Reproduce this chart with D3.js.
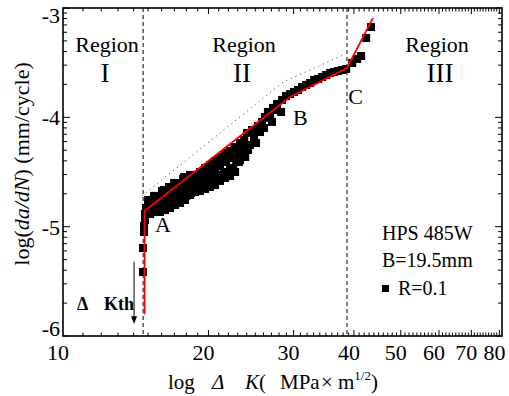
<!DOCTYPE html>
<html>
<head>
<meta charset="utf-8">
<script src="https://cdnjs.cloudflare.com/ajax/libs/d3/7.8.5/d3.min.js"></script>
<style>
  body { margin: 0; background: #fff; }
  text { font-family: "Liberation Serif", "Times New Roman", serif; fill: #000; }
</style>
</head>
<body>
<script>
// measured points: stress intensity range (MPa m^1/2) and log(da/dN)
const dk = [14.64, 14.64, 14.71, 14.71, 14.78, 14.78, 14.85, 15.0, 15.0, 15.14,
  15.28, 15.36, 15.51, 15.66, 15.73, 15.88, 16.03, 16.1, 16.26, 16.42,
  16.49, 16.65, 16.81, 16.89, 17.06, 17.22, 17.3, 17.47, 17.64, 17.72,
  17.89, 18.06, 18.15, 18.32, 18.5, 18.58, 18.76, 18.94, 19.03, 19.21,
  19.4, 19.49, 19.68, 19.87, 19.96, 20.15, 20.35, 20.44, 20.64, 20.84,
  20.94, 21.13, 21.34, 21.55, 21.76, 21.96, 22.17, 22.39, 22.61, 22.82,
  23.04, 23.25, 23.49, 23.72, 24.04, 24.38, 24.61, 25.09, 25.33, 25.81,
  26.18, 26.55, 27.07, 27.2, 27.73, 28.27, 28.4, 28.95, 29.51, 30.07,
  30.65, 31.25, 31.85, 32.47, 33.1, 33.73, 34.38, 35.05, 35.72, 36.41,
  37.11, 37.82, 38.55, 39.67, 40.62, 41.4, 42.4, 43.4,
  15.14, 15.58, 15.95, 16.34, 16.73, 17.14, 17.55, 17.98, 18.41, 18.85,
  19.3, 19.77, 20.25, 20.74, 21.24, 21.86, 22.5, 23.14, 23.83, 24.15,
  24.85, 25.57, 26.06, 26.83, 27.6, 15.43, 16.18, 16.98, 17.81,
  17.89, 18.32, 18.76, 19.21, 19.68, 20.15, 20.64, 21.13, 21.65, 22.17,
  22.71, 23.25, 23.83, 18.32, 18.76, 19.21, 19.68, 20.15, 20.64, 21.13,
  21.65, 22.17, 22.71, 23.25, 15.73, 16.49, 17.3, 15.88, 16.65, 17.47,
  17.06, 16.26, 17.89, 15.0, 15.51, 16.03, 16.57, 17.14, 17.72, 18.32];
const logRate = [-5.415, -5.195, -5.049, -4.994, -4.939, -4.884, -4.829, -4.793, -4.866, -4.829,
  -4.774, -4.848, -4.802, -4.738, -4.820, -4.774, -4.719, -4.793, -4.747, -4.692,
  -4.765, -4.719, -4.665, -4.747, -4.692, -4.637, -4.719, -4.665, -4.610, -4.710,
  -4.646, -4.582, -4.683, -4.619, -4.555, -4.656, -4.591, -4.527, -4.628, -4.564,
  -4.500, -4.601, -4.537, -4.463, -4.573, -4.500, -4.427, -4.555, -4.473, -4.390,
  -4.527, -4.445, -4.363, -4.500, -4.408, -4.326, -4.463, -4.372, -4.280, -4.408,
  -4.326, -4.235, -4.344, -4.207, -4.143, -4.253, -4.116, -4.235, -4.079, -4.042,
  -3.997, -3.951, -4.042, -3.914, -3.878, -3.951, -3.841, -3.805, -3.787, -3.768,
  -3.750, -3.722, -3.704, -3.686, -3.658, -3.649, -3.631, -3.613, -3.594, -3.585,
  -3.576, -3.567, -3.558, -3.503, -3.466, -3.439, -3.274, -3.174,
  -4.884, -4.866, -4.829, -4.811, -4.783, -4.756, -4.738, -4.719, -4.692, -4.665,
  -4.646, -4.628, -4.601, -4.573, -4.537, -4.509, -4.463, -4.408, -4.363, -4.299,
  -4.189, -4.134, -4.097, -4.006, -3.933, -4.719, -4.665, -4.600, -4.546,
  -4.601, -4.564, -4.537, -4.500, -4.463, -4.436, -4.399, -4.372, -4.335, -4.308,
  -4.271, -4.299, -4.262, -4.710, -4.683, -4.674, -4.655, -4.637, -4.619, -4.582,
  -4.555, -4.537, -4.500, -4.390, -4.756, -4.710, -4.655, -4.866, -4.829, -4.783,
  -4.802, -4.848, -4.756, -4.756, -4.719, -4.674, -4.637, -4.601, -4.564, -4.527];

// red fitted polyline and dotted upper bound
const fitK = [14.75, 14.75, 29.5, 38.7, 43.8];
const fitLog = [-5.80, -4.857, -3.814, -3.549, -3.09];
const boundK = [14.57, 28.55, 38.0];
const boundLog = [-4.72, -3.677, -3.43];

// region borders (dashed)
const regionBorders = [14.65, 38.7];

// ticks
const xMajor = [10, 20, 30, 40, 50, 60, 70, 80];
const yMajor = [-6, -5, -4, -3];

const W = 509, H = 396;
let margin = {top: 8, right: 7, bottom: 60, left: 63};

let x = d3.scaleLog().domain([10, 81]).range([margin.left, W - margin.right]);
let y = d3.scaleLinear().domain([-6, -3]).range([H - margin.bottom, margin.top]);

let svg = d3.select("body").append("svg")
    .attr("width", W)
    .attr("height", H);

svg.append("rect").attr("width", W).attr("height", H).attr("fill", "white");

let x0 = x.range()[0], x1 = x.range()[1];
let yb = y.range()[0], yt = y.range()[1];

// region borders
svg.selectAll("line.region")
    .data(regionBorders)
    .enter().append("line")
    .attr("class", "region")
    .attr("x1", d => x(d)).attr("x2", d => x(d))
    .attr("y1", yt).attr("y2", yb)
    .attr("stroke", "#000")
    .attr("stroke-width", 1)
    .attr("stroke-dasharray", "4,3");

// dotted bound
let line = d3.line().x(d => x(d[0])).y(d => y(d[1]));
svg.append("path")
    .attr("d", line(d3.zip(boundK, boundLog)))
    .attr("fill", "none")
    .attr("stroke", "#333")
    .attr("stroke-width", 1)
    .attr("stroke-dasharray", "1,4");

// points
let pts = d3.zip(dk, logRate);
svg.selectAll("rect.pt")
    .data(pts)
    .enter().append("rect")
    .attr("class", "pt")
    .attr("x", d => x(d[0]) - 4)
    .attr("y", d => y(d[1]) - 4)
    .attr("width", 8)
    .attr("height", 8)
    .attr("fill", "#000");

// fit line
svg.append("path")
    .attr("d", line(d3.zip(fitK, fitLog)))
    .attr("fill", "none")
    .attr("stroke", "#ff0000")
    .attr("stroke-width", 1.8);

// x ticks: integer minor ticks, majors at tens
let xTicks = d3.range(11, 81);
svg.selectAll("line.xt")
    .data(xTicks)
    .enter().append("line")
    .attr("class", "xt")
    .attr("x1", d => x(d)).attr("x2", d => x(d))
    .attr("y1", yb).attr("y2", d => yb - (d % 10 === 0 ? 6 : 3.5))
    .attr("stroke", "#000").attr("stroke-width", 1);
svg.selectAll("line.xtt")
    .data(xTicks)
    .enter().append("line")
    .attr("class", "xtt")
    .attr("x1", d => x(d)).attr("x2", d => x(d))
    .attr("y1", yt).attr("y2", d => yt + (d % 10 === 0 ? 6 : 3.5))
    .attr("stroke", "#000").attr("stroke-width", 1);

// y ticks: log-style minor ticks within each decade
let yTicks = [];
[-6, -5, -4].forEach(dec => {
  for (let k = 1; k <= 9; k++) yTicks.push({v: dec + Math.log10(k), major: k === 1});
});
yTicks.push({v: -3, major: true});
[["yl", x0, 1], ["yr", x1, -1]].forEach(([cls, xp, dir]) => {
  svg.selectAll("line." + cls)
      .data(yTicks)
      .enter().append("line")
      .attr("class", cls)
      .attr("x1", xp).attr("x2", d => xp + dir * (d.major ? 7 : 4))
      .attr("y1", d => y(d.v)).attr("y2", d => y(d.v))
      .attr("stroke", "#000").attr("stroke-width", 1);
});

// frame
svg.append("rect")
    .attr("x", x0).attr("y", yt)
    .attr("width", x1 - x0).attr("height", yb - yt)
    .attr("fill", "none")
    .attr("stroke", "#000")
    .attr("stroke-width", 1.6);

// tick labels
svg.selectAll("text.xl")
    .data(xMajor)
    .enter().append("text")
    .attr("class", "xl")
    .attr("x", d => x(d) - 5)
    .attr("y", yb + 24)
    .attr("text-anchor", "middle")
    .attr("font-size", 22)
    .text(d => d);

svg.selectAll("text.yl")
    .data(yMajor)
    .enter().append("text")
    .attr("class", "yl")
    .attr("x", x0 - 3)
    .attr("y", d => y(d) + 8 + (d === -3 ? 7 : d === -6 ? -8 : 0))
    .attr("text-anchor", "end")
    .attr("font-size", 22)
    .text(d => d);

// axis titles
let xt = svg.append("text").attr("y", 389).attr("font-size", 21);
xt.append("tspan").attr("x", 168).text("log");
xt.append("tspan").attr("x", 212).attr("font-style", "italic").text("\u0394");
xt.append("tspan").attr("x", 245).attr("font-style", "italic").text("K");
xt.append("tspan").text("(");
xt.append("tspan").attr("x", 280).text("MPa");
xt.append("tspan").attr("x", 321).text("\u00d7");
xt.append("tspan").attr("x", 338).text("m");
xt.append("tspan").attr("font-size", 13).attr("dy", -9).text("1/2");
xt.append("tspan").attr("dy", 9).text(")");

let yl = svg.append("text")
    .attr("transform", "translate(29,164) rotate(-90)")
    .attr("text-anchor", "middle")
    .attr("font-size", 22);
yl.append("tspan").text("log(");
yl.append("tspan").attr("font-style", "italic").text("da/dN");
yl.append("tspan").text(") (mm/cycle)");

// region labels
const regionNames = ["I", "II", "III"];
const regionCenters = [107, 244, 437];
regionNames.forEach((r, i) => {
  svg.append("text").attr("x", regionCenters[i]).attr("y", 52)
      .attr("text-anchor", "middle").attr("font-size", 22).text("Region");
  svg.append("text").attr("x", regionCenters[i] + (i === 2 ? 3 : -2)).attr("y", 82)
      .attr("text-anchor", "middle").attr("font-size", 27).text(r);
});

// point labels A, B, C
const markLabels = ["A", "B", "C"];
const markK = [16.1, 31.0, 40.3];
const markLog = [-5.05, -4.07, -3.88];
markLabels.forEach((m, i) => {
  svg.append("text").attr("x", x(markK[i])).attr("y", y(markLog[i]))
      .attr("text-anchor", "middle").attr("font-size", 22).text(m);
});

// threshold annotation
svg.append("text").attr("x", 77).attr("y", 310)
    .attr("font-size", 18).attr("font-weight", "bold").text("\u0394");
svg.append("text").attr("x", 104).attr("y", 310)
    .attr("font-size", 18).attr("font-weight", "bold").text("Kth");
let ax = x(14.03);
svg.append("line")
    .attr("x1", ax).attr("x2", ax)
    .attr("y1", y(-5.32)).attr("y2", y(-5.86))
    .attr("stroke", "#000").attr("stroke-width", 1);
svg.append("path")
    .attr("d", `M${ax - 3},${y(-5.82)} L${ax + 3},${y(-5.82)} L${ax},${y(-5.89)} Z`)
    .attr("fill", "#000");

// legend
svg.append("text").attr("x", 382).attr("y", 240).attr("font-size", 20).text("HPS 485W");
svg.append("text").attr("x", 382).attr("y", 267).attr("font-size", 20).text("B=19.5mm");
svg.append("rect").attr("x", 382).attr("y", 285).attr("width", 7).attr("height", 7).attr("fill", "#000");
svg.append("text").attr("x", 398).attr("y", 295).attr("font-size", 20).text("R=0.1");
</script>
</body>
</html>
